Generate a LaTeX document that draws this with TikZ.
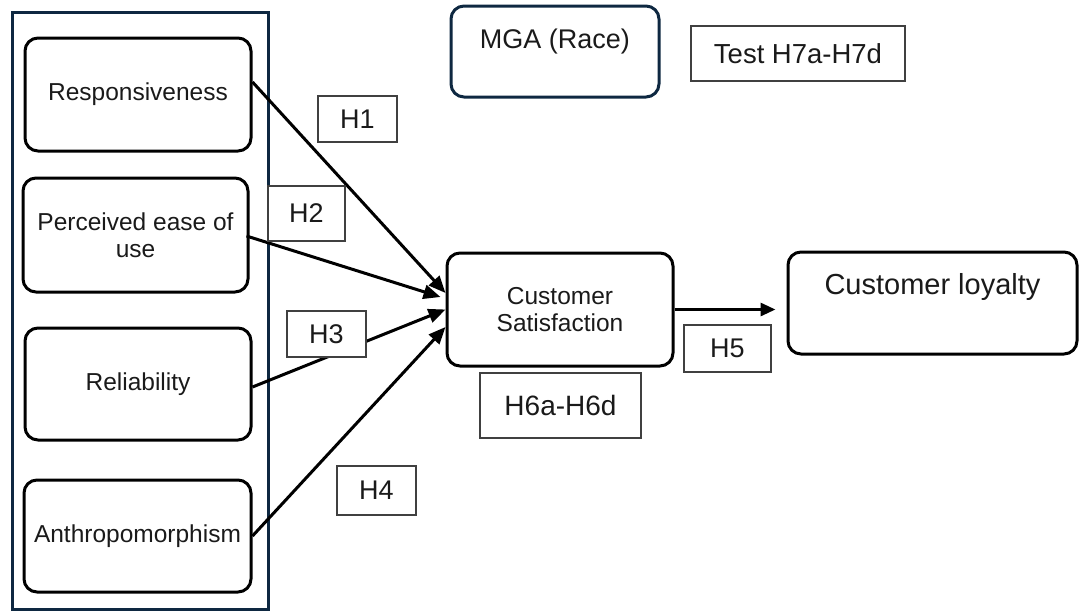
\documentclass[tikz,border=0pt]{standalone}
\usepackage{fontspec}
\setmainfont{Liberation Sans}
\usetikzlibrary{arrows.meta,calc}
\definecolor{navy}{HTML}{0E2841}
\definecolor{txt}{HTML}{1A1A1A}
\tikzset{
  rbox/.style={draw=black, line width=3pt, rounded corners=13pt, align=center,
    inner sep=0pt, text=txt, font=\fontsize{24.5}{27.5}\selectfont},
  hbox/.style={draw=black!75, line width=1.3pt, fill=white, inner sep=0pt,
    text=txt, font=\fontsize{27}{32}\selectfont},
  arr/.style={line width=3pt, -{Triangle[length=17pt,width=14pt]}},
}
\begin{document}
\begin{tikzpicture}[x=1pt,y=-1pt]
\useasboundingbox (0,0) rectangle (1082,611);
% group frame
\node[draw=navy, line width=3pt, minimum width=256pt, minimum height=597pt, inner sep=0pt] (group) at (140,310.5) {};
% construct boxes
\node[rbox, minimum width=226pt, minimum height=113pt] (resp) at (138,94.5) {Responsiveness};
\node[rbox, minimum width=225pt, minimum height=114pt] (peou) at (135.5,235) {Perceived ease of\\use};
\node[rbox, minimum width=226pt, minimum height=112pt] (rel) at (138,384) {Reliability};
\node[rbox, minimum width=227pt, minimum height=112pt] (anth) at (137.5,536) {Anthropomorphism};
\node[rbox, minimum width=226pt, minimum height=113pt] (cs) at (560,309.5) {Customer\\Satisfaction};
\node[rbox, minimum width=289pt, minimum height=102pt,
  label={[anchor=center, yshift=16pt, text=txt, font=\fontsize{29}{32}\selectfont]center:Customer loyalty}] (loyal) at (932.5,303) {};
\node[rbox, draw=navy, minimum width=208pt, minimum height=91pt,
  label={[anchor=center, yshift=9.5pt, text=txt, font=\fontsize{27}{32}\selectfont]center:MGA (Race)}] (mga) at (555,51.5) {};
% arrows
\draw[arr] ([yshift=12.5pt]resp.east) -- ([yshift=16.5pt]cs.west);
\draw[arr] ([xshift=-3pt,yshift=-1pt]peou.east) -- ([xshift=-5pt,yshift=12.5pt]cs.west);
\draw[arr] ([yshift=-3pt]rel.east) -- (cs.west);
\draw[arr] (anth.east) -- ([yshift=-17.5pt]cs.west);
\draw[arr, -{Triangle[length=15pt,width=13pt]}] (cs.east) -- ([xshift=-11pt]cs.east -| loyal.west);
% hypothesis labels
\node[hbox, minimum width=79pt, minimum height=46pt] (h1) at (357.5,119) {H1};
\node[hbox, minimum width=77pt, minimum height=55pt] (h2) at (306.5,213.5) {H2};
\node[hbox, minimum width=79pt, minimum height=46pt] (h3) at (326.5,334) {H3};
\node[hbox, minimum width=79pt, minimum height=49pt] (h4) at (376.5,490.5) {H4};
\node[hbox, minimum width=87pt, minimum height=47pt] (h5) at (727.5,348.5) {H5};
\node[hbox, minimum width=161pt, minimum height=65pt, font=\fontsize{28}{32}\selectfont] (h6) at (560.5,405.5) {H6a-H6d};
\node[hbox, minimum width=214pt, minimum height=55pt, font=\fontsize{27.5}{32}\selectfont] (h7) at (798,53.5) {Test H7a-H7d};
\end{tikzpicture}
\end{document}
